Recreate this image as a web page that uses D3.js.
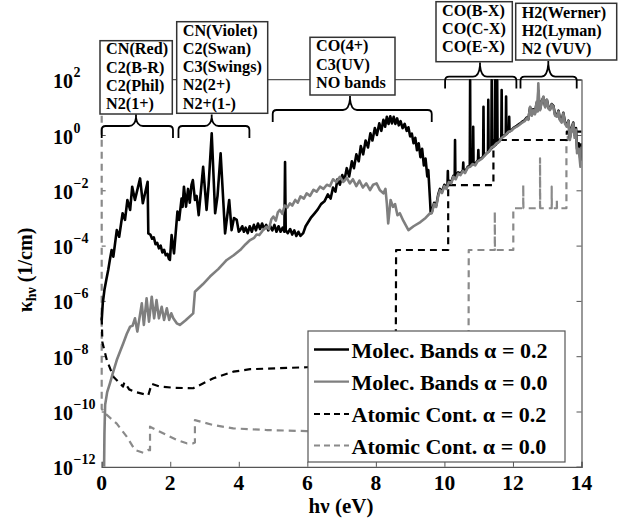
<!DOCTYPE html>
<html>
<head>
<meta charset="utf-8">
<script src="https://cdn.jsdelivr.net/npm/d3@7/dist/d3.min.js"></script>
<style>
  html, body { margin: 0; padding: 0; background: #fff; }
  svg { display: block; }
  text { font-family: "Liberation Serif", "Times New Roman", serif; font-weight: bold; fill: #000; }
</style>
</head>
<body>
<svg id="chart" width="620" height="519"></svg>
<script>
// Absorption coefficient spectra. Each point is [photon energy hν (eV), log10 κ (1/cm)].

const xTickValues = [0, 2, 4, 6, 8, 10, 12, 14];
const yTickExponents = [-12, -10, -8, -6, -4, -2, 0, 2];

const legendLabels = [
  "Molec. Bands \u03b1 = 0.2",
  "Molec. Bands \u03b1 = 0.0",
  "Atomic Cont. \u03b1 = 0.2",
  "Atomic Cont. \u03b1 = 0.0"
];

// Molecular band systems annotated above the spectrum
const bandGroupLines = [
  ["CN(Red)", "C2(B-R)", "C2(Phil)", "N2(1+)"],
  ["CN(Violet)", "C2(Swan)", "C3(Swings)", "N2(2+)", "N2+(1-)"],
  ["CO(4+)", "C3(UV)", "NO bands"],
  ["CO(B-X)", "CO(C-X)", "CO(E-X)"],
  ["H2(Werner)", "H2(Lyman)", "N2 (VUV)"]
];
// energy range (eV) covered by each group's brace
const bandGroupRanges = [
  [0.0, 2.08], [2.24, 4.31], [4.99, 9.63], [10.02, 12.1], [12.22, 13.86]
];

// Molecular bands, alpha = 0.2
const molecA02 = [
  [0.00,-6.7],[0.03,-6.1],[0.08,-5.6],[0.14,-5.2],[0.19,-4.88],[0.24,-4.5],[0.29,-4.16],[0.34,-4.40],
  [0.44,-3.44],[0.51,-3.68],[0.61,-2.83],[0.68,-3.07],[0.75,-2.35],[0.83,-2.71],[0.89,-1.87],[0.97,-2.35],
  [1.12,-1.57],[1.20,-2.47],[1.34,-1.69],[1.36,-3.56],[1.42,-3.6],[1.47,-3.75],[1.52,-3.7],[1.57,-3.95],
  [1.62,-3.9],[1.67,-4.1],[1.72,-4.0],[1.77,-4.25],[1.82,-4.15],[1.87,-4.35],[1.92,-4.3],[1.96,-4.48],
  [1.99,-4.52],[2.04,-3.62],[2.11,-4.28],[2.21,-2.77],[2.26,-3.07],[2.33,-2.3],[2.36,-2.6],[2.40,-1.87],
  [2.46,-2.59],[2.52,-1.95],[2.57,-2.45],[2.62,-1.8],[2.66,-1.63],[2.72,-2.35],[2.77,-2.2],[2.83,-2.9],
  [2.96,-1.15],[3.06,-2.71],[3.12,-1.8],[3.21,0.06],[3.31,-2.83],[3.38,-2.2],[3.47,-0.66],[3.60,-3.56],
  [3.72,-2.35],[3.79,-3.44],[3.86,-3.0],[3.94,-3.07],[4.0,-3.5],[4.04,-3.44],
  [4.1,-3.3],[4.15,-3.5],[4.2,-3.35],[4.26,-3.55],[4.32,-3.3],[4.38,-3.5],[4.44,-3.25],[4.5,-3.45],
  [4.56,-3.2],[4.62,-3.4],[4.68,-3.2],[4.74,-3.4],[4.8,-3.25],[4.86,-3.45],[4.92,-3.3],[4.98,-3.45],
  [5.04,-3.25],[5.1,-3.5],[5.16,-3.3],[5.22,-3.5],[5.28,-3.35],[5.33,-3.5],[5.35,-0.98],[5.37,-3.45],
  [5.43,-3.55],[5.5,-3.4],[5.56,-3.6],[5.62,-3.45],[5.68,-3.65],[5.74,-3.5],[5.8,-3.65],[5.88,-3.55],
  [5.95,-3.3],[6.0,-3.2],[6.1,-3.0],[6.2,-2.85],[6.3,-2.7],[6.4,-2.5],[6.5,-2.4],[6.6,-2.15],[6.68,-2.3],
  [6.75,-1.9],[6.82,-2.05],[6.88,-1.6],[6.95,-1.8],[7.02,-1.45],[7.08,-1.65],[7.15,-1.2],[7.22,-1.5],
  [7.3,-0.95],[7.36,-1.2],[7.43,-0.7],[7.5,-0.95],[7.56,-0.4],[7.63,-0.7],[7.7,-0.2],[7.77,-0.45],
  [7.84,0.06],[7.9,-0.2],[7.97,0.25],[8.03,0.0],[8.1,0.42],[8.16,0.15],[8.22,0.55],[8.27,0.3],[8.32,0.66],
  [8.37,0.4],[8.42,0.68],[8.47,0.42],[8.52,0.66],[8.57,0.4],[8.62,0.6],[8.67,0.35],[8.72,0.5],[8.78,0.25],
  [8.84,0.4],[8.9,0.15],[8.95,0.28],[9.0,-0.05],[9.05,0.05],[9.1,-0.3],[9.15,-0.1],[9.2,-0.55],[9.25,-0.3],
  [9.3,-0.8],[9.35,-0.5],[9.4,-1.1],[9.45,-0.85],[9.5,-1.5],[9.53,-1.27],[9.58,-2.35],[9.6,-2.83],
  [9.63,-2.8],[9.7,-2.45],[9.76,-2.55],[9.82,-2.15],[9.87,-1.95],[9.93,-2.05],[10.0,-1.8],[10.06,-1.9],
  [10.09,-1.82],[10.1,-1.3],[10.11,-1.82],[10.13,-1.65],[10.2,-1.7],[10.26,-1.48],[10.3,-1.55],[10.31,-0.18],
  [10.32,-1.55],[10.4,-1.35],[10.47,-1.4],[10.54,-1.27],[10.55,-1.0],[10.56,-1.3],[10.6,-1.33],[10.68,-1.15],
  [10.74,-1.12],[10.75,1.98],[10.76,-1.12],[10.83,-1.05],[10.84,0.3],[10.85,-1.05],[10.9,-1.05],[10.98,-0.9],
  [10.99,-0.54],[11.0,-0.9],[11.04,-0.87],[11.1,-0.82],[11.13,-0.78],[11.14,1.02],[11.15,-0.76],[11.2,-0.7],
  [11.27,-0.62],[11.28,1.27],[11.29,-0.6],[11.34,-0.52],[11.37,-0.48],[11.38,1.98],[11.39,-0.46],[11.47,-0.38],
  [11.48,1.98],[11.49,-0.36],[11.53,-0.3],[11.54,1.98],[11.55,-0.28],[11.6,-0.22],[11.66,-0.1],[11.67,1.63],
  [11.68,-0.08],[11.72,-0.04],[11.79,0.02],[11.80,1.39],[11.81,0.03],[11.88,0.13],[11.89,0.66],[11.9,0.13],
  [11.95,0.17],[12.03,0.27],[12.11,0.33],[12.2,0.41],[12.27,0.48],[12.34,0.53],[12.4,0.63],[12.45,0.58],
  [12.50,1.0],[12.55,0.73],[12.59,0.93],[12.64,0.78],[12.69,1.15],[12.72,0.88],[12.74,1.6],[12.77,1.03],
  [12.79,0.93],[12.84,1.23],[12.89,1.36],[12.94,1.03],[12.99,1.27],[13.04,0.98],[13.08,0.93],[13.13,1.12],
  [13.18,1.05],[13.23,0.73],[13.28,0.7],[13.33,0.88],[13.37,0.57],[13.42,0.5],[13.47,0.8],[13.52,0.45],
  [13.57,0.35],[13.62,0.52],[13.66,-0.1],[13.71,0.25],[13.76,0.45],[13.8,0.0],[13.84,0.25],[13.87,-0.5],
  [13.92,-0.3],[13.97,-0.9],[14.0,-0.3]
];

// Molecular bands, alpha = 0.0
const molecA00 = [
  [0.07,-12.0],[0.08,-10.8],[0.10,-9.76],[0.16,-9.3],[0.24,-8.98],[0.34,-8.55],[0.44,-8.14],[0.53,-7.85],
  [0.63,-7.53],[0.73,-7.2],[0.83,-6.93],[0.9,-6.9],[0.97,-6.63],[1.04,-7.11],[1.17,-6.09],[1.23,-6.87],
  [1.31,-5.91],[1.38,-6.75],[1.46,-5.85],[1.53,-6.63],[1.60,-5.97],[1.67,-6.63],[1.75,-6.21],[1.82,-6.69],
  [1.90,-6.27],[1.97,-6.69],[2.03,-6.45],[2.09,-6.63],[2.19,-6.81],[2.28,-6.87],[2.45,-6.7],[2.67,-6.45],
  [2.72,-5.67],[2.95,-5.4],[3.16,-5.12],[3.4,-4.85],[3.65,-4.52],[3.85,-4.35],[4.04,-4.16],[4.2,-3.95],
  [4.33,-3.80],[4.45,-3.72],[4.52,-3.6],[4.6,-3.62],[4.7,-3.45],[4.81,-3.32],[4.88,-3.4],[4.95,-3.05],
  [5.01,-2.95],[5.08,-3.1],[5.14,-2.8],[5.2,-2.71],[5.27,-2.85],[5.34,-2.55],[5.42,-2.62],[5.49,-2.47],
  [5.56,-2.55],[5.65,-2.35],[5.72,-2.45],[5.8,-2.22],[5.9,-2.3],[5.98,-2.11],[6.08,-2.2],[6.18,-1.98],
  [6.27,-2.05],[6.37,-1.87],[6.47,-1.95],[6.57,-1.8],[6.66,-1.85],[6.75,-1.6],[6.85,-1.7],[6.95,-1.51],
  [7.05,-1.7],[7.15,-1.55],[7.24,-1.75],[7.33,-1.6],[7.43,-1.85],[7.52,-1.65],[7.62,-1.9],[7.72,-1.75],
  [7.83,-1.99],[7.92,-1.8],[8.02,-1.75],[8.12,-2.0],[8.22,-2.11],[8.28,-1.95],[8.32,-2.47],[8.36,-3.2],
  [8.43,-2.35],[8.5,-2.6],[8.56,-2.5],[8.63,-2.9],[8.70,-2.83],[8.8,-3.1],[8.95,-3.44],[9.1,-3.3],
  [9.3,-3.15],[9.45,-3.0],[9.58,-2.83],[9.63,-2.83],[9.7,-2.5],[9.76,-2.6],[9.82,-2.2],[9.87,-2.0],
  [9.93,-2.1],[10.0,-1.85],[10.06,-1.95],[10.13,-1.7],[10.2,-1.75],[10.26,-1.51],[10.33,-1.6],[10.4,-1.4],
  [10.47,-1.45],[10.54,-1.3],[10.6,-1.38],[10.68,-1.18],[10.75,-1.15],[10.82,-1.05],[10.9,-1.1],[10.97,-0.95],
  [11.04,-0.9],[11.1,-0.85],[11.17,-0.75],[11.23,-0.66],[11.3,-0.6],[11.38,-0.45],[11.45,-0.4],[11.52,-0.3],
  [11.6,-0.25],[11.66,-0.12],[11.72,-0.06],[11.8,0.02],[11.87,0.12],[11.95,0.15],[12.03,0.25],[12.11,0.30],
  [12.2,0.38],[12.27,0.45],[12.34,0.5],[12.4,0.60],[12.45,0.55],[12.50,1.02],[12.55,0.7],[12.59,0.90],
  [12.64,0.75],[12.69,1.2],[12.72,0.85],[12.74,1.87],[12.77,1.0],[12.79,0.90],[12.84,1.2],[12.89,1.39],
  [12.94,1.0],[12.99,1.27],[13.04,0.95],[13.08,0.9],[13.13,1.1],[13.18,1.02],[13.23,0.7],[13.28,0.66],
  [13.33,0.85],[13.37,0.54],[13.42,0.45],[13.47,0.78],[13.52,0.4],[13.57,0.30],[13.62,0.5],[13.66,-0.18],
  [13.71,0.2],[13.76,0.42],[13.8,-0.1],[13.84,0.2],[13.87,-0.66],[13.92,-0.5],[13.97,-1.15],[14.0,-0.42]
];

// Atomic continuum, alpha = 0.2
const atomicA02 = [
  [0.00,-6.6],[0.02,-7.5],[0.15,-8.14],[0.34,-8.74],[0.53,-8.98],[0.62,-9.1],[0.66,-8.95],[0.76,-9.12],
  [0.8,-9.2],[1.0,-9.3],[1.36,-9.41],[1.46,-9.0],[1.70,-9.10],[2.09,-9.14],[2.67,-9.16],[3.26,-8.80],
  [3.84,-8.56],[4.33,-8.47],[5.98,-8.40],[8.58,-8.3],[8.59,-4.16],[10.11,-4.16],[10.11,-1.81],[11.43,-1.81],
  [11.43,-0.18],[13.57,-0.18],[13.57,0.12],[14.0,0.12]
];

// Atomic continuum, alpha = 0.0
const atomicA00 = [
  [0.00,2.0],[0.00,-9.9],[0.10,-10.07],[0.44,-10.44],[0.73,-10.91],[0.97,-11.39],[1.21,-11.49],[1.36,-11.39],
  [1.41,-11.4],[1.41,-10.55],[1.70,-10.73],[2.19,-11.03],[2.48,-11.15],[2.67,-11.15],[2.72,-11.12],[2.72,-10.31],
  [3.26,-10.49],[3.84,-10.61],[4.81,-10.67],[5.98,-10.71],[10.70,-10.8],[10.71,-4.16],[11.47,-4.16],
  [11.47,-2.77],[11.475,-4.16],[12.01,-4.16],[12.01,-2.65],[12.30,-2.65],[12.30,-1.81],[12.305,-2.65],
  [12.79,-2.65],[12.79,-0.84],[12.795,-2.65],[13.13,-2.65],[13.13,-1.87],[13.135,-2.65],[13.28,-2.65],
  [13.28,-2.35],[13.285,-2.65],[13.56,-2.65],[13.56,-0.18],[13.6,-0.18],[13.6,0.12],[14.0,0.12]
];

const svg = d3.select("#chart");

const plot = { left: 101.7, right: 581.5, top: 79.7, bottom: 466.8 };
const x = d3.scaleLinear().domain([0, 14]).range([plot.left, plot.right]);
const y = d3.scaleLog().domain([1e-12, 1e2]).range([plot.bottom, plot.top]);

const frameColor = "#555";

// clip region for the spectra
svg.append("defs").append("clipPath").attr("id", "plotClip")
  .append("rect")
  .attr("x", plot.left - 3).attr("y", plot.top - 1)
  .attr("width", plot.right - plot.left + 3).attr("height", plot.bottom - plot.top + 1);

// axes: bottom and right with inward ticks, top frame line, left ticks only
const xAxis = d3.axisBottom(x).tickValues(xTickValues).tickSize(-5).tickFormat("");
svg.append("g").attr("transform", `translate(0,${plot.bottom})`).call(xAxis)
  .call(g => g.selectAll("path.domain").attr("stroke", frameColor).attr("stroke-width", 1.2))
  .call(g => g.selectAll(".tick line").attr("stroke", frameColor));

const yTickVals = yTickExponents.map(e => Math.pow(10, e));
const yRight = d3.axisRight(y).tickValues(yTickVals).tickSize(-5).tickFormat("");
svg.append("g").attr("transform", `translate(${plot.right},0)`).call(yRight)
  .call(g => g.selectAll("path.domain").attr("stroke", frameColor).attr("stroke-width", 1.2))
  .call(g => g.selectAll(".tick line").attr("stroke", frameColor));

const yLeft = d3.axisLeft(y).tickValues(yTickVals).tickSize(-4).tickFormat("");
svg.append("g").attr("transform", `translate(${plot.left},0)`).call(yLeft)
  .call(g => g.select("path.domain").remove())
  .call(g => g.selectAll(".tick line").attr("stroke", frameColor));

svg.append("line")
  .attr("x1", plot.left).attr("x2", plot.right)
  .attr("y1", plot.top).attr("y2", plot.top)
  .attr("stroke", frameColor).attr("stroke-width", 1.2);

// x tick labels
svg.append("g").selectAll("text").data(xTickValues).join("text")
  .attr("x", d => x(d)).attr("y", 489.5)
  .attr("text-anchor", "middle").attr("font-size", 21.5)
  .text(d => d);

// y tick labels as powers of ten
const yLab = svg.append("g").selectAll("g").data(yTickExponents).join("g");
yLab.append("text")
  .attr("x", 53).attr("y", d => y(Math.pow(10, d)) + 8.5)
  .attr("font-size", 20).text("10");
yLab.append("text")
  .attr("x", 73.5).attr("y", d => y(Math.pow(10, d)) - 2.5)
  .attr("font-size", 14).text(d => (d < 0 ? "\u2212" + Math.abs(d) : String(d)));

// axis titles
svg.append("text").attr("x", 341).attr("y", 513)
  .attr("text-anchor", "middle").attr("font-size", 21).text("h\u03bd (eV)");

const yTitle = svg.append("text")
  .attr("transform", "translate(32,270) rotate(-90)")
  .attr("text-anchor", "middle")
  .attr("font-size", 20);
yTitle.append("tspan").text("\u03ba");
yTitle.append("tspan").attr("font-size", 14).attr("dy", 4).text("h\u03bd");
yTitle.append("tspan").attr("dy", -4).text(" (1/cm)");

// spectra
const line = d3.line().x(d => x(d[0])).y(d => y(Math.pow(10, d[1])));
const curves = svg.append("g").attr("clip-path", "url(#plotClip)");

const seriesStyles = [
  { data: atomicA00, color: "#8a8a8a", width: 2.2, dash: "7,5" },
  { data: atomicA02, color: "#000", width: 2.2, dash: "7,5" },
  { data: molecA02, color: "#000", width: 2.6, dash: null },
  { data: molecA00, color: "#7f7f7f", width: 2.6, dash: null }
];
seriesStyles.forEach(s => {
  curves.append("path").datum(s.data)
    .attr("d", line)
    .attr("fill", "none")
    .attr("stroke", s.color)
    .attr("stroke-width", s.width)
    .attr("stroke-linejoin", "round")
    .attr("stroke-dasharray", s.dash);
});

// legend
const legendStyles = [
  { color: "#000", width: 2.6, dash: null },
  { color: "#7f7f7f", width: 2.2, dash: null },
  { color: "#000", width: 2.2, dash: "7,5" },
  { color: "#8a8a8a", width: 2.2, dash: "7,5" }
];
const lg = svg.append("g");
lg.append("rect").attr("x", 308).attr("y", 331).attr("width", 257).attr("height", 131)
  .attr("fill", "#fff").attr("stroke", frameColor).attr("stroke-width", 1.2);
const rowY = [349.5, 381.7, 414, 445.5];
legendLabels.forEach((lab, i) => {
  lg.append("line").attr("x1", 314).attr("x2", 349).attr("y1", rowY[i]).attr("y2", rowY[i])
    .attr("stroke", legendStyles[i].color).attr("stroke-width", legendStyles[i].width)
    .attr("stroke-dasharray", legendStyles[i].dash ? "6,4" : null);
  lg.append("text").attr("x", 351.5).attr("y", rowY[i] + 8).attr("font-size", 22).text(lab);
});

// band-system label boxes
const boxes = [
  { x0: 100, x1: 172.3, top: 40.7, bottom: 114, base: 54.2 },
  { x0: 176.7, x1: 267.7, top: 21.7, bottom: 113.3, base: 35.5 },
  { x0: 310, x1: 395, top: 37.3, bottom: 95, base: 51.2 },
  { x0: 436, x1: 512.3, top: 1.7, bottom: 61.7, base: 15.8 },
  { x0: 515.7, x1: 616.7, top: 3.3, bottom: 60, base: 17.6 }
];
const boxG = svg.append("g");
boxes.forEach((b, i) => {
  boxG.append("rect").attr("x", b.x0).attr("y", b.top)
    .attr("width", b.x1 - b.x0).attr("height", b.bottom - b.top)
    .attr("fill", "#fff").attr("stroke", "#333").attr("stroke-width", 1.5);
  bandGroupLines[i].forEach((t, k) => {
    boxG.append("text").attr("x", b.x0 + 6).attr("y", b.base + k * 18.3)
      .attr("font-size", 16.2).text(t);
  });
});

// curly braces spanning each band group's energy range
const braceGeom = [
  { yh: 126, yEnd: 138, yTip: 114.5 },
  { yh: 126, yEnd: 138, yTip: 114.5 },
  { yh: 110, yEnd: 122, yTip: 96 },
  { yh: 76.7, yEnd: 88.5, yTip: 62.5 },
  { yh: 76.7, yEnd: 88.5, yTip: 61 }
];
const braceCenters = [136, 211.7, 350, 480, 548.3];
bandGroupRanges.forEach((r, i) => {
  const x1 = x(r[0]), x2 = x(r[1]), g = braceGeom[i], xc = braceCenters[i];
  const rr = 4, rc = 7;
  const p = d3.path();
  p.moveTo(x1, g.yEnd);
  p.lineTo(x1, g.yh + rr);
  p.quadraticCurveTo(x1, g.yh, x1 + rr, g.yh);
  p.lineTo(xc - rc, g.yh);
  p.quadraticCurveTo(xc - 1, g.yh, xc, g.yTip + 3);
  p.lineTo(xc, g.yTip);
  p.moveTo(xc, g.yTip + 3);
  p.quadraticCurveTo(xc + 1, g.yh, xc + rc, g.yh);
  p.lineTo(x2 - rr, g.yh);
  p.quadraticCurveTo(x2, g.yh, x2, g.yh + rr);
  p.lineTo(x2, g.yEnd);
  svg.append("path").attr("d", p.toString())
    .attr("fill", "none").attr("stroke", "#000").attr("stroke-width", 1.8);
});
</script>
</body>
</html>
